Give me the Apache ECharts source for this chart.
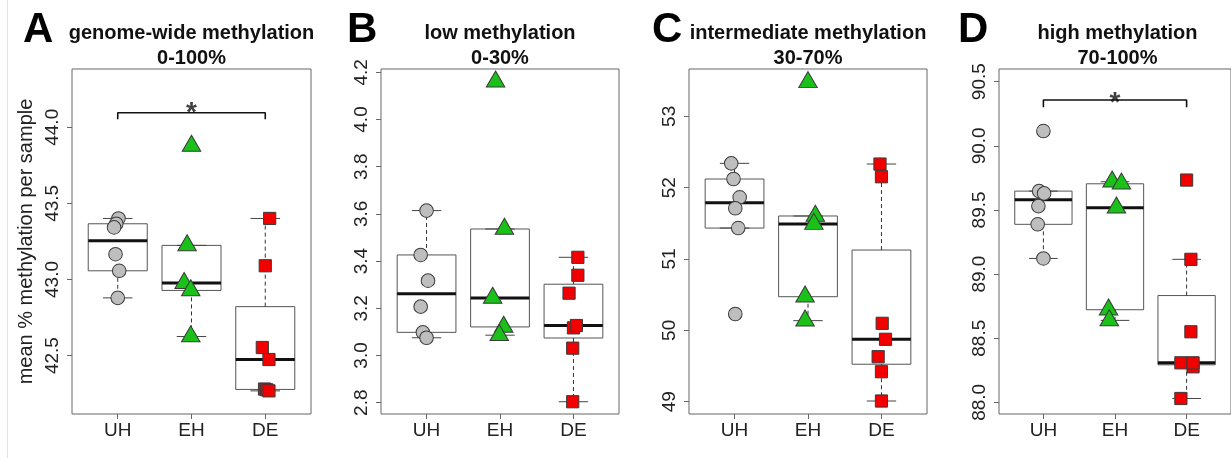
<!DOCTYPE html>
<html>
<head>
<meta charset="utf-8">
<script src="https://cdn.jsdelivr.net/npm/echarts@6/dist/echarts.min.js"></script>
<style>
  html, body { margin: 0; padding: 0; background: #fff; }
  #chart { width: 1231px; height: 458px; }
</style>
</head>
<body>
<div id="chart"></div>
<script>
// groups on the x axis
const groups = ['UH', 'EH', 'DE'];

// panel A - genome-wide methylation 0-100%
const uhA = [43.401, 43.366, 43.342, 43.166, 43.057, 42.879];
const uhAx = [1.01, 0.98, 0.95, 0.97, 1.02, 1.0];
const ehA = [43.877, 43.224, 42.976, 42.928, 42.625];
const ehAx = [2.0, 1.94, 1.90, 1.99, 1.99];
const deA = [43.401, 43.09, 42.553, 42.474, 42.28, 42.275, 42.268];
const deAx = [3.06, 3.0, 2.96, 3.05, 2.99, 3.02, 3.05];
const ticksA = ['42.5', '43.0', '43.5', '44.0'];

// panel B - low methylation 0-30%
const uhB = [3.614, 3.426, 3.317, 3.207, 3.098, 3.075];
const uhBx = [1.0, 0.92, 1.02, 0.92, 0.95, 1.0];
const ehB = [4.16, 3.536, 3.244, 3.121, 3.086];
const ehBx = [1.94, 2.06, 1.90, 2.05, 1.99];
const deB = [3.416, 3.340, 3.264, 3.117, 3.127, 3.031, 2.804];
const deBx = [3.06, 3.06, 2.94, 3.0, 3.04, 2.99, 2.99];
const ticksB = ['2.8', '3.0', '3.2', '3.4', '3.6', '3.8', '4.0', '4.2'];

// panel C - intermediate methylation 30-70%
const uhC = [52.341, 52.121, 51.865, 51.711, 51.434, 50.229];
const uhCx = [0.955, 0.986, 1.07, 1.01, 1.05, 1.01];
const ehC = [53.476, 51.603, 51.49, 50.472, 50.136];
const ehCx = [2.0, 2.1, 2.08, 1.96, 1.96];
const deC = [52.331, 52.153, 50.099, 49.875, 49.631, 49.42, 49.01];
const deCx = [2.98, 3.0, 3.01, 3.055, 2.955, 3.0, 3.0];
const ticksC = ['49', '50', '51', '52', '53'];

// panel D - high methylation 70-100%
const uhD = [90.115, 89.647, 89.629, 89.53, 89.388, 89.122];
const uhDx = [1.0, 0.94, 1.01, 0.93, 0.92, 1.0];
const ehD = [89.72, 89.704, 89.517, 88.722, 88.639];
const ehDx = [1.96, 2.09, 2.02, 1.91, 1.92];
const deD = [89.733, 89.115, 88.55, 88.277, 88.308, 88.308, 88.03];
const deDx = [3.0, 3.06, 3.06, 3.09, 2.92, 3.09, 2.92];
const ticksD = ['88.0', '88.5', '89.0', '89.5', '90.0', '90.5'];

// significance brackets: [x from, x to, tick bottom, bar y], star y
const bracketA = [1, 3, 44.053, 44.096];
const starA = 44.14;
const bracketD = [1, 3, 90.30, 90.357];
const starD = 90.385;

const titles = ['genome-wide methylation\n0-100%', 'low methylation\n0-30%',
  'intermediate methylation\n30-70%', 'high methylation\n70-100%'];
const letters = ['A', 'B', 'C', 'D'];

const FONT = '"Liberation Sans", Arial, Helvetica, sans-serif';

// R style boxplot stats (fivenum hinges, 1.5 IQR whiskers)
function boxStats(v) {
  const s = v.slice().sort((a, b) => a - b);
  const n = s.length;
  const n4 = Math.floor((n + 3) / 2) / 2;
  const at = i => 0.5 * (s[Math.floor(i) - 1] + s[Math.ceil(i) - 1]);
  const q1 = at(n4), md = at((n + 1) / 2), q3 = at(n + 1 - n4);
  const iqr = q3 - q1;
  const lo = Math.min(...s.filter(d => d >= q1 - 1.5 * iqr));
  const hi = Math.max(...s.filter(d => d <= q3 + 1.5 * iqr));
  return [lo, q1, md, q3, hi];
}

function renderBox(params, api) {
  const x = api.value(0);
  const lo = api.value(1), q1 = api.value(2), md = api.value(3), q3 = api.value(4), hi = api.value(5);
  const tl = api.coord([x - 0.4, q3]);
  const br = api.coord([x + 0.4, q1]);
  const c = api.coord([x, md]);
  const pHi = api.coord([x, hi]);
  const pLo = api.coord([x, lo]);
  const cap = (br[0] - tl[0]) / 4;
  const kids = [
    { type: 'rect', shape: { x: tl[0], y: tl[1], width: br[0] - tl[0], height: br[1] - tl[1] },
      style: { fill: '#fff', stroke: '#555', lineWidth: 1 } }
  ];
  if (pHi[1] < tl[1] - 0.5) {
    kids.push({ type: 'line', shape: { x1: c[0], y1: tl[1], x2: c[0], y2: pHi[1] },
      style: { stroke: '#333', lineWidth: 1, lineDash: [4, 3] } });
  }
  if (pLo[1] > br[1] + 0.5) {
    kids.push({ type: 'line', shape: { x1: c[0], y1: br[1], x2: c[0], y2: pLo[1] },
      style: { stroke: '#333', lineWidth: 1, lineDash: [4, 3] } });
  }
  kids.push({ type: 'line', shape: { x1: c[0] - cap, y1: pHi[1], x2: c[0] + cap, y2: pHi[1] },
    style: { stroke: '#444', lineWidth: 1 } });
  kids.push({ type: 'line', shape: { x1: c[0] - cap, y1: pLo[1], x2: c[0] + cap, y2: pLo[1] },
    style: { stroke: '#444', lineWidth: 1 } });
  kids.push({ type: 'line', shape: { x1: tl[0], y1: c[1], x2: br[0], y2: c[1] },
    style: { stroke: '#111', lineWidth: 3 } });
  return { type: 'group', children: kids };
}

const panels = [
  { left: 72, width: 239, min: 42.116, max: 44.383, ticks: ticksA,
    sets: [[uhA, uhAx], [ehA, ehAx], [deA, deAx]], bracket: bracketA, star: starA },
  { left: 381, width: 238, min: 2.752, max: 4.214, ticks: ticksB,
    sets: [[uhB, uhBx], [ehB, ehBx], [deB, deBx]] },
  { left: 689, width: 238, min: 48.828, max: 53.663, ticks: ticksC,
    sets: [[uhC, uhCx], [ehC, ehCx], [deC, deCx]] },
  { left: 999, width: 237, min: 87.909, max: 90.599, ticks: ticksD,
    sets: [[uhD, uhDx], [ehD, ehDx], [deD, deDx]], bracket: bracketD, star: starD }
];

const markers = [
  { symbol: 'circle', size: 13.6, offset: [0, 0], color: '#BEBEBE' },
  { symbol: 'triangle', size: [18.5, 16], offset: [0, -2.7], color: '#19C119' },
  { symbol: 'rect', size: 12.2, offset: [0, 0], color: '#F20000' }
];

const grid = [], xAxis = [], yAxis = [], series = [], title = [];

panels.forEach((p, i) => {
  grid.push({ left: p.left, top: 69, width: p.width, height: 345,
    show: true, borderColor: '#666', borderWidth: 1, backgroundColor: 'transparent' });
  xAxis.push({
    type: 'value', gridIndex: i, min: 0.38, max: 3.62,
    axisLine: { show: false }, splitLine: { show: false },
    axisTick: { show: true, length: 5, customValues: [1, 2, 3], lineStyle: { color: '#666' } },
    axisLabel: { customValues: [1, 2, 3], margin: 7, fontSize: 19, fontFamily: FONT, color: '#222',
      formatter: v => groups[Math.round(v) - 1] }
  });
  const tickVals = p.ticks.map(Number);
  yAxis.push({
    type: 'value', gridIndex: i, min: p.min, max: p.max,
    axisLine: { show: false }, splitLine: { show: false },
    axisTick: { show: true, length: 5, customValues: tickVals, lineStyle: { color: '#666' } },
    axisLabel: { customValues: tickVals, rotate: 90, margin: 10, fontSize: 19, fontFamily: FONT, color: '#222',
      formatter: v => p.ticks[tickVals.findIndex(t => Math.abs(t - v) < 1e-6)] },
    name: i === 0 ? 'mean % methylation per sample' : '',
    nameLocation: 'middle', nameGap: 36,
    nameTextStyle: { fontSize: 20, fontFamily: FONT, color: '#222' }
  });
  series.push({
    type: 'custom', xAxisIndex: i, yAxisIndex: i, clip: false, silent: true,
    renderItem: renderBox,
    data: p.sets.map((s, g) => [g + 1].concat(boxStats(s[0])))
  });
  p.sets.forEach((s, g) => {
    const m = markers[g];
    series.push({
      type: 'scatter', xAxisIndex: i, yAxisIndex: i, silent: true,
      symbol: m.symbol, symbolSize: m.size, symbolOffset: m.offset,
      itemStyle: { color: m.color, borderColor: '#3a3a3a', borderWidth: 1, opacity: 1 },
      data: s[0].map((v, k) => [s[1][k], v])
    });
  });
  if (p.bracket) {
    const b = p.bracket;
    series.push({
      type: 'line', xAxisIndex: i, yAxisIndex: i, silent: true, symbol: 'none',
      lineStyle: { color: '#111', width: 1.6 },
      data: [[b[0], b[2]], [b[0], b[3]], [b[1], b[3]], [b[1], b[2]]]
    });
    series.push({
      type: 'scatter', xAxisIndex: i, yAxisIndex: i, silent: true, symbolSize: 0,
      label: { show: true, position: 'inside', offset: [0, 7], formatter: '*',
        fontSize: 28, fontWeight: 'bold', fontFamily: FONT, color: '#111' },
      data: [[(b[0] + b[1]) / 2, p.star]]
    });
  }
  title.push({
    text: titles[i], left: p.left + p.width / 2, top: 21, textAlign: 'center', padding: 0,
    textStyle: { fontSize: 20, fontWeight: 'bold', lineHeight: 25, fontFamily: FONT, color: '#111' }
  });
});

const letterLeft = [23, 347, 652, 958];
letters.forEach((l, i) => {
  title.push({
    text: l, left: letterLeft[i], top: 9, padding: 0,
    textStyle: { fontSize: 42, fontWeight: 'bold', fontFamily: FONT, color: '#000' }
  });
});

const chart = echarts.init(document.getElementById('chart'), null, { renderer: 'canvas' });
chart.setOption({
  animation: false,
  backgroundColor: '#fff',
  title: title,
  grid: grid,
  xAxis: xAxis,
  yAxis: yAxis,
  series: series,
  graphic: [{ type: 'line', shape: { x1: 7.5, y1: 0, x2: 7.5, y2: 458 },
    style: { stroke: '#e2e2e2', lineWidth: 1 }, silent: true }]
});
</script>
</body>
</html>
